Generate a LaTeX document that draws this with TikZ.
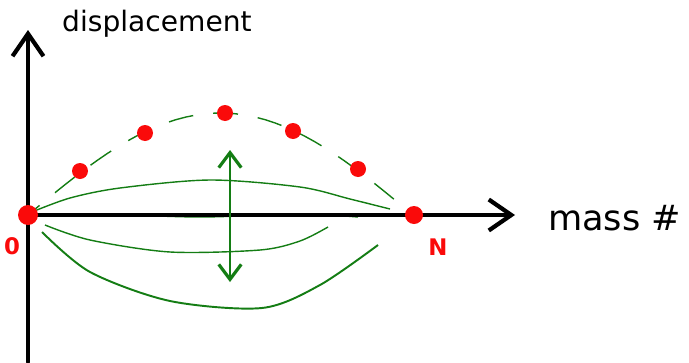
\documentclass[tikz,border=0pt]{standalone}
\usepackage{fontspec}
\setmainfont{DejaVu Sans}
\usetikzlibrary{arrows.meta}
\definecolor{dotred}{RGB}{250,10,10}
\definecolor{modegreen}{RGB}{20,125,20}

\tikzset{
  axisline/.style={line width=2.4pt, line cap=round,
    -{Straight Barb[length=0.45cm, width=0.62cm]}},
  mass/.style={circle, fill=dotred, inner sep=0pt, minimum size=0.32cm},
  modeline/.style={modegreen, line width=0.8pt},
}

\begin{document}
\begin{tikzpicture}[x=0.02cm, y=-0.02cm]
  \useasboundingbox (0,0) rectangle (689,362);

  % axes
  \coordinate (ytip) at (28,30);
  \coordinate (ybase) at (28,362);
  \coordinate (xtip) at (515,215);
  \draw[axisline] (ybase) -- (ytip);
  \node[font=\fontsize{16}{18}\selectfont, anchor=west] (ylabel) at (56,24) {displacement};
  \node[font=\fontsize{20}{22}\selectfont, anchor=west] (xlabel) at (542,218) {mass \#};

  % string shapes (under the axis)
  \draw[modeline] plot[smooth] coordinates {(32,212) (70,198) (120,188) (210,180) (300,187) (350,199) (390,209)};
  \draw[modeline] plot[smooth] coordinates {(34,215) (100,214) (200,217) (300,214) (358,217)};
  \draw[modeline] plot[smooth] coordinates {(45,225) (90,240) (170,252) (260,250) (300,241) (328,227)};
  \draw[modeline, line width=1.1pt] plot[smooth] coordinates {(42,232) (90,272) (170,301) (262,308) (320,285) (378,245)};
  \draw[modeline, dash pattern=on 0.5cm off 0.4cm, dash phase=0.2cm]
    plot[domain=0:1, samples=40] ({28+385*\x}, {215-102*sin(180*\x)});

  \draw[axisline] (28,215) -- (xtip);

  % masses
  \node[mass, minimum size=0.4cm] (m0) at (28,215) {};
  \node[mass] (m1) at (80,171) {};
  \node[mass] (m2) at (145,133) {};
  \node[mass] (m3) at (225,113) {};
  \node[mass] (m4) at (293,131) {};
  \node[mass] (m5) at (358,169) {};
  \node[mass, minimum size=0.36cm] (mN) at (414,215) {};
  \node[dotred, font=\fontsize{13}{14}\selectfont\bfseries] (lab0) at (12,246) {0};
  \node[dotred, font=\fontsize{13}{14}\selectfont\bfseries] (labN) at (438,247) {N};

  % oscillation
  \coordinate (up) at (230,150);
  \coordinate (down) at (230,282);
  \draw[modegreen, line width=1.2pt,
    {Straight Barb[length=0.3cm, width=0.45cm, line width=1.8pt]}-{Straight Barb[length=0.3cm, width=0.45cm, line width=1.8pt]}] (up) -- (down);
\end{tikzpicture}
\end{document}
